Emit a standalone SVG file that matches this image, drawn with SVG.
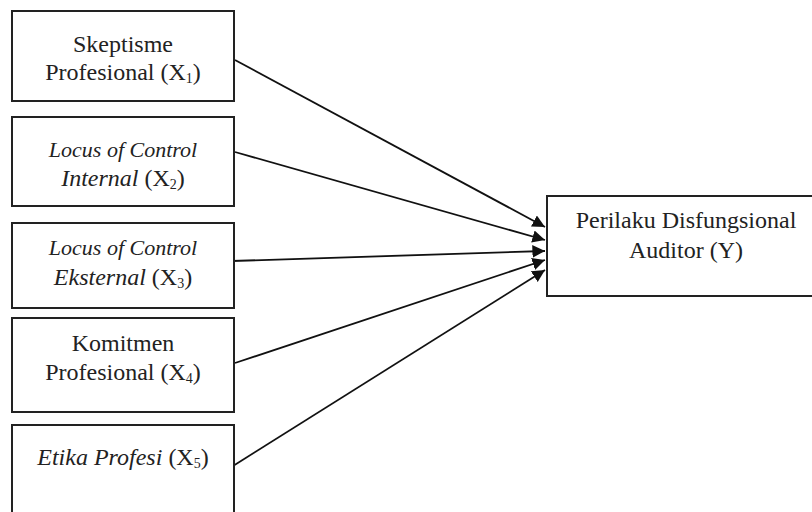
<svg xmlns="http://www.w3.org/2000/svg" width="812" height="512" viewBox="0 0 812 512">
<style>
.box{fill:#fff;stroke:#222;stroke-width:2}
text{font-family:'Liberation Serif','DejaVu Serif',serif;font-size:24px;fill:#222;text-anchor:middle}
.i{font-style:italic}
.li{font-style:italic;font-size:22px}
.sub{font-size:14px}
.c{stroke:#111;stroke-width:1.8;fill:none;marker-end:url(#ah)}
</style>
<defs>
<marker id="ah" viewBox="0 0 10 10" refX="10" refY="5" markerWidth="7" markerHeight="7" orient="auto" markerUnits="strokeWidth">
<path d="M0,0 L10,5 L0,10 z" fill="#111"/>
</marker>
</defs>
<rect width="812" height="512" fill="#fff"/>
<g id="connectors">
<line class="c" x1="235" y1="60" x2="545" y2="227"/>
<line class="c" x1="235" y1="152" x2="545" y2="240"/>
<line class="c" x1="232" y1="261" x2="545" y2="251"/>
<line class="c" x1="235" y1="363" x2="545" y2="260"/>
<line class="c" x1="233" y1="466" x2="545" y2="270"/>
</g>
<g id="x1">
<rect class="box" x="12" y="11" width="222" height="90"/>
<text x="123" y="52">Skeptisme</text>
<text x="123" y="80">Profesional (X<tspan class="sub" dy="3">1</tspan><tspan dy="-3">)</tspan></text>
</g>
<g id="x2">
<rect class="box" x="12" y="117" width="222" height="89"/>
<text class="li" x="123" y="157">Locus of Control</text>
<text x="123" y="186"><tspan class="i">Internal</tspan> (X<tspan class="sub" dy="3">2</tspan><tspan dy="-3">)</tspan></text>
</g>
<g id="x3">
<rect class="box" x="12" y="223" width="222" height="85"/>
<text class="li" x="123" y="255">Locus of Control</text>
<text x="123" y="285"><tspan class="i">Eksternal</tspan> (X<tspan class="sub" dy="3">3</tspan><tspan dy="-3">)</tspan></text>
</g>
<g id="x4">
<rect class="box" x="12" y="318" width="222" height="94"/>
<text x="123" y="351">Komitmen</text>
<text x="123" y="380">Profesional (X<tspan class="sub" dy="3">4</tspan><tspan dy="-3">)</tspan></text>
</g>
<g id="x5">
<rect class="box" x="12" y="425" width="222" height="100"/>
<text x="123" y="465"><tspan class="i">Etika Profesi</tspan> (X<tspan class="sub" dy="3">5</tspan><tspan dy="-3">)</tspan></text>
</g>
<g id="y">
<rect class="box" x="547" y="196" width="275" height="100"/>
<text x="686" y="228">Perilaku Disfungsional</text>
<text x="686" y="258">Auditor (Y)</text>
</g>
</svg>
